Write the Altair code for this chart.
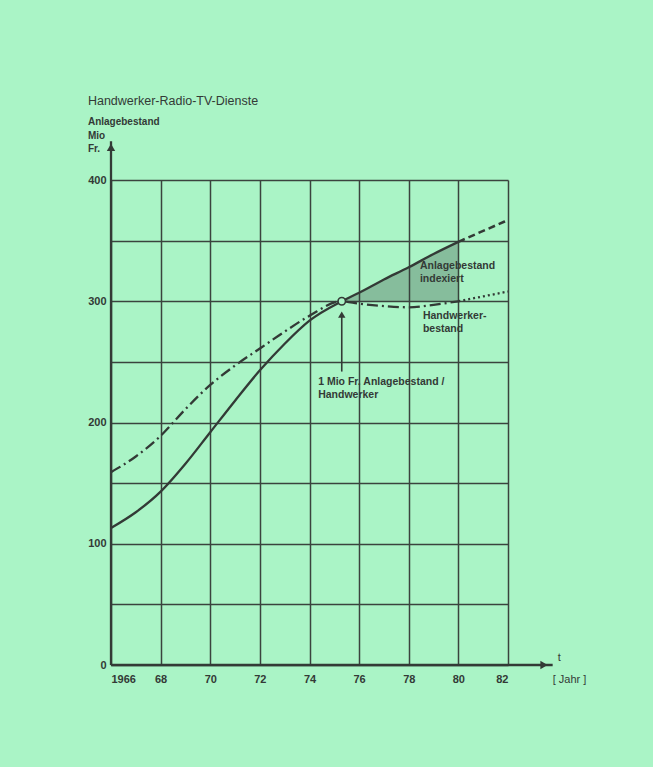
import altair as alt
import pandas as pd

# ---- data ----
years_hist = [1966, 1967, 1968, 1969, 1970, 1971, 1972, 1973, 1974, 1975.3,
              1976, 1977, 1978, 1979, 1980]
anlage = [113, 126, 143, 166, 192, 218, 243, 265, 284, 300,
          307, 318, 328, 339, 349]
handw = [159, 172, 189, 211, 231, 247, 261, 275, 288, 300,
         298, 296, 295, 297, 300]

years_proj = [1980, 1981, 1982]
anlage_proj = [349, 358, 367]
handw_proj = [300, 304, 308]

hatch_years = [1975.3, 1976, 1977, 1978, 1979, 1980]
hatch_top = [300, 307, 318, 328, 339, 349]
hatch_base = [300, 300, 300, 300, 300, 300]

x_ticks = [1966, 1968, 1970, 1972, 1974, 1976, 1978, 1980, 1982]
y_ticks = [0, 50, 100, 150, 200, 250, 300, 350, 400]

marker_year = [1975.3]
marker_value = [300]

title_text = "Handwerker-Radio-TV-Dienste"
ylabel_lines = ["Anlagebestand", "Mio", "Fr."]

FONT = "Liberation Sans"
INK = "#333a36"
BG = "#aaf4c6"
GRID = "#3a433e"

df_hist = pd.DataFrame({"year": years_hist, "anlage": anlage, "handw": handw})
df_proj = pd.DataFrame({"year": years_proj, "anlage": anlage_proj, "handw": handw_proj})
df_hatch = pd.DataFrame({"year": hatch_years, "top": hatch_top, "base": hatch_base})

xscale = alt.Scale(domain=[1966, 1982], nice=False, zero=False)
yscale = alt.Scale(domain=[0, 400], nice=False, zero=True)

xax = alt.Axis(values=x_ticks, grid=True, gridColor=GRID, gridWidth=1.5, gridOpacity=1,
               domain=False, ticks=False, title=None, format="d",
               labelExpr="datum.value == 1966 ? datum.label : substring(datum.label, 2)",
               labelFont=FONT, labelFontSize=11, labelFontWeight="bold", labelColor=INK,
               labelPadding=8)
yax = alt.Axis(values=y_ticks, grid=True, gridColor=GRID, gridWidth=1.5, gridOpacity=1,
               domain=False, ticks=False, title=None,
               labelExpr="datum.value % 100 == 0 ? datum.label : ''",
               labelFont=FONT, labelFontSize=11, labelFontWeight="bold", labelColor=INK,
               labelPadding=5)

base_x = alt.X("year:Q", scale=xscale, axis=xax)

hatch = alt.Chart(df_hatch).mark_area(color="#34403a", opacity=0.3, interpolate="monotone").encode(
    x=base_x,
    y=alt.Y("top:Q", scale=yscale, axis=yax),
    y2="base:Q",
)

solid = alt.Chart(df_hist).mark_line(color=INK, strokeWidth=2.3, interpolate="monotone").encode(
    x="year:Q", y="anlage:Q")
dashdot = alt.Chart(df_hist).mark_line(color=INK, strokeWidth=2.3, interpolate="monotone",
                                       strokeDash=[11, 4, 2, 4]).encode(
    x="year:Q", y="handw:Q")
dashed = alt.Chart(df_proj).mark_line(color=INK, strokeWidth=2.5, strokeDash=[7, 4],
                                      interpolate="monotone").encode(
    x="year:Q", y="anlage:Q")
dotted = alt.Chart(df_proj).mark_line(color=INK, strokeWidth=2.3, strokeDash=[2, 3],
                                      interpolate="monotone").encode(
    x="year:Q", y="handw:Q")

# axis lines with arrows
axis_df = pd.DataFrame({"x0": [1966, 1966], "x1": [1983.8, 1966], "y0": [0, 0], "y1": [0, 432]})
axis_rules = alt.Chart(axis_df).mark_rule(color=INK, strokeWidth=2.3).encode(
    x="x0:Q", x2="x1:Q", y="y0:Q", y2="y1:Q")
arrow_df = pd.DataFrame({"x": [1983.45, 1966], "y": [0, 427], "shape": ["triangle-right", "triangle-up"]})
arrow_heads = alt.Chart(arrow_df).mark_point(filled=True, color=INK, opacity=1, size=70).encode(
    x="x:Q", y="y:Q", shape=alt.Shape("shape:N", scale=None))

# annotation arrow and marker
ann_df = pd.DataFrame({"x": marker_year, "y0": [242], "y1": [289]})
ann_rule = alt.Chart(ann_df).mark_rule(color=INK, strokeWidth=1.6).encode(
    x="x:Q", y="y0:Q", y2="y1:Q")
ann_head = alt.Chart(ann_df).mark_point(shape="triangle-up", filled=True, color=INK,
                                        opacity=1, size=55).encode(x="x:Q", y="y1:Q")
marker = alt.Chart(pd.DataFrame({"x": marker_year, "y": marker_value})).mark_point(
    shape="circle", filled=True, fill=BG, stroke=INK, strokeWidth=1.6, opacity=1, size=55
).encode(x="x:Q", y="y:Q")

# texts
txt_df = pd.DataFrame({
    "x": [1978.45, 1978.57, 1974.35],
    "y": [327, 285, 231],
    "t": ["Anlagebestand\nindexiert", "Handwerker-\nbestand", "1 Mio Fr. Anlagebestand /\nHandwerker"],
})
texts = alt.Chart(txt_df).mark_text(align="left", baseline="alphabetic", font=FONT, fontSize=10.5,
                                    fontWeight="bold", color=INK, lineBreak="\n",
                                    lineHeight=13).encode(x="x:Q", y="y:Q", text="t:N")

title_df = pd.DataFrame({"x": [1965.07], "y": [462], "t": [title_text]})
title_mark = alt.Chart(title_df).mark_text(align="left", baseline="alphabetic", font=FONT,
                                           fontSize=12.5, color=INK).encode(
    x="x:Q", y="y:Q", text="t:N")

ylab_df = pd.DataFrame({"x": [1965.07] * 3, "y": [445, 434, 423], "t": ylabel_lines})
ylab = alt.Chart(ylab_df).mark_text(align="left", baseline="alphabetic", font=FONT,
                                    fontSize=10, fontWeight="bold", color=INK).encode(
    x="x:Q", y="y:Q", text="t:N")

xlab_df = pd.DataFrame({"x": [1984.0, 1983.8], "y": [3, -15], "t": ["t", "[ Jahr ]"]})
xlab = alt.Chart(xlab_df).mark_text(align="left", baseline="alphabetic", font=FONT,
                                    fontSize=11, color=INK).encode(
    x="x:Q", y="y:Q", text="t:N")

chart = alt.layer(
    hatch, solid, dashdot, dashed, dotted, axis_rules, arrow_heads,
    ann_rule, ann_head, marker, texts, title_mark, ylab, xlab
).properties(
    width=397, height=485,
    autosize=alt.AutoSizeParams(type="none"),
    padding={"left": 111, "top": 180, "right": 145, "bottom": 102},
    background=BG,
).configure_view(strokeWidth=0)

chart.save("out.html", embed_options={"renderer": "svg", "actions": False})
